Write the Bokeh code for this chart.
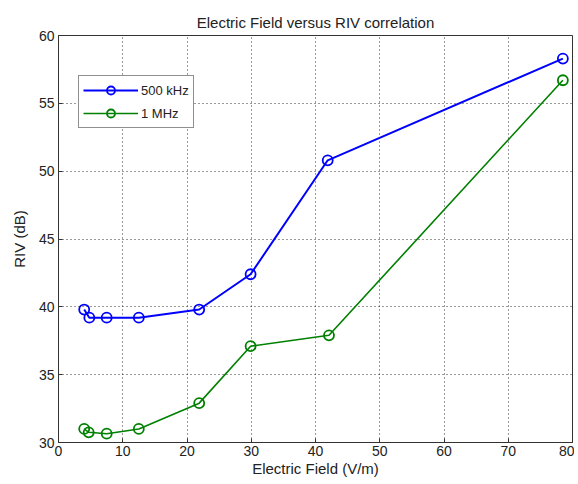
from bokeh.plotting import figure
from bokeh.models import FixedTicker, Range1d
from bokeh.embed import file_html
from bokeh.resources import INLINE

# Data
field = [4.0, 4.8, 7.5, 12.5, 21.9, 29.9, 41.9, 78.5]
riv_500khz = [39.8, 39.2, 39.2, 39.2, 39.8, 42.4, 50.8, 58.3]
field_1mhz = [4.0, 4.7, 7.5, 12.5, 21.9, 29.9, 42.1, 78.5]
riv_1mhz = [31.0, 30.75, 30.65, 31.0, 32.9, 37.1, 37.9, 56.7]

x_ticks = [0, 10, 20, 30, 40, 50, 60, 70, 80]
y_ticks = [30, 35, 40, 45, 50, 55, 60]

FONT = "Liberation Sans"
BLUE = "#0000ff"
GREEN = "#008000"

p = figure(width=574, height=480, output_backend="svg", toolbar_location=None,
           x_range=Range1d(0, 80), y_range=Range1d(30, 60),
           title="Electric Field versus RIV correlation",
           min_border_left=58, min_border_right=2, min_border_top=35, min_border_bottom=38)

p.title.align = "center"
p.title.text_font = FONT
p.title.text_font_size = "15px"
p.title.text_font_style = "normal"
p.title.text_color = "#222222"
p.title.offset = 0

p.outline_line_color = "#333333"
p.outline_line_width = 1
p.background_fill_color = "white"
p.border_fill_color = "white"

for ax, ticks in ((p.xaxis[0], x_ticks), (p.yaxis[0], y_ticks)):
    ax.ticker = FixedTicker(ticks=ticks)
    ax.major_tick_in = 4
    ax.major_tick_out = 0
    ax.minor_tick_in = 0
    ax.minor_tick_out = 0
    ax.axis_line_color = "#333333"
    ax.major_tick_line_color = "#333333"
    ax.major_label_text_font = FONT
    ax.major_label_text_font_size = "14px"
    ax.major_label_text_color = "#222222"
    ax.axis_label_text_font = FONT
    ax.axis_label_text_font_size = "15px"
    ax.axis_label_text_font_style = "normal"
    ax.axis_label_text_color = "#222222"

p.xaxis.axis_label = "Electric Field (V/m)"
p.yaxis.axis_label = "RIV (dB)"
p.xaxis.major_label_standoff = 3
p.yaxis.major_label_standoff = 4
p.xaxis.axis_label_standoff = 1
p.yaxis.axis_label_standoff = 8

p.xgrid.ticker = FixedTicker(ticks=x_ticks)
p.ygrid.ticker = FixedTicker(ticks=y_ticks)
for g in (p.xgrid[0], p.ygrid[0]):
    g.grid_line_color = "#111111"
    g.grid_line_dash = "1 3"
    g.grid_line_width = 1
    g.grid_line_alpha = 0.85

p.line(field, riv_500khz, color=BLUE, line_width=2, legend_label="500 kHz")
p.scatter(field, riv_500khz, marker="circle", size=10, fill_color=None,
          line_color=BLUE, line_width=1.8, legend_label="500 kHz")
p.line(field_1mhz, riv_1mhz, color=GREEN, line_width=1.6, legend_label="1 MHz")
p.scatter(field_1mhz, riv_1mhz, marker="circle", size=10, fill_color=None,
          line_color=GREEN, line_width=1.8, legend_label="1 MHz")

lg = p.legend[0]
lg.location = (20, 314)
lg.border_line_color = "#222222"
lg.border_line_width = 1
lg.background_fill_alpha = 1
lg.label_text_font = FONT
lg.label_text_font_size = "13px"
lg.label_text_color = "#222222"
lg.glyph_width = 55
lg.glyph_height = 20
lg.label_height = 20
lg.label_standoff = 3
lg.spacing = 3
lg.padding = 4
lg.margin = 0

open("out.html", "w").write(file_html(p, INLINE))
